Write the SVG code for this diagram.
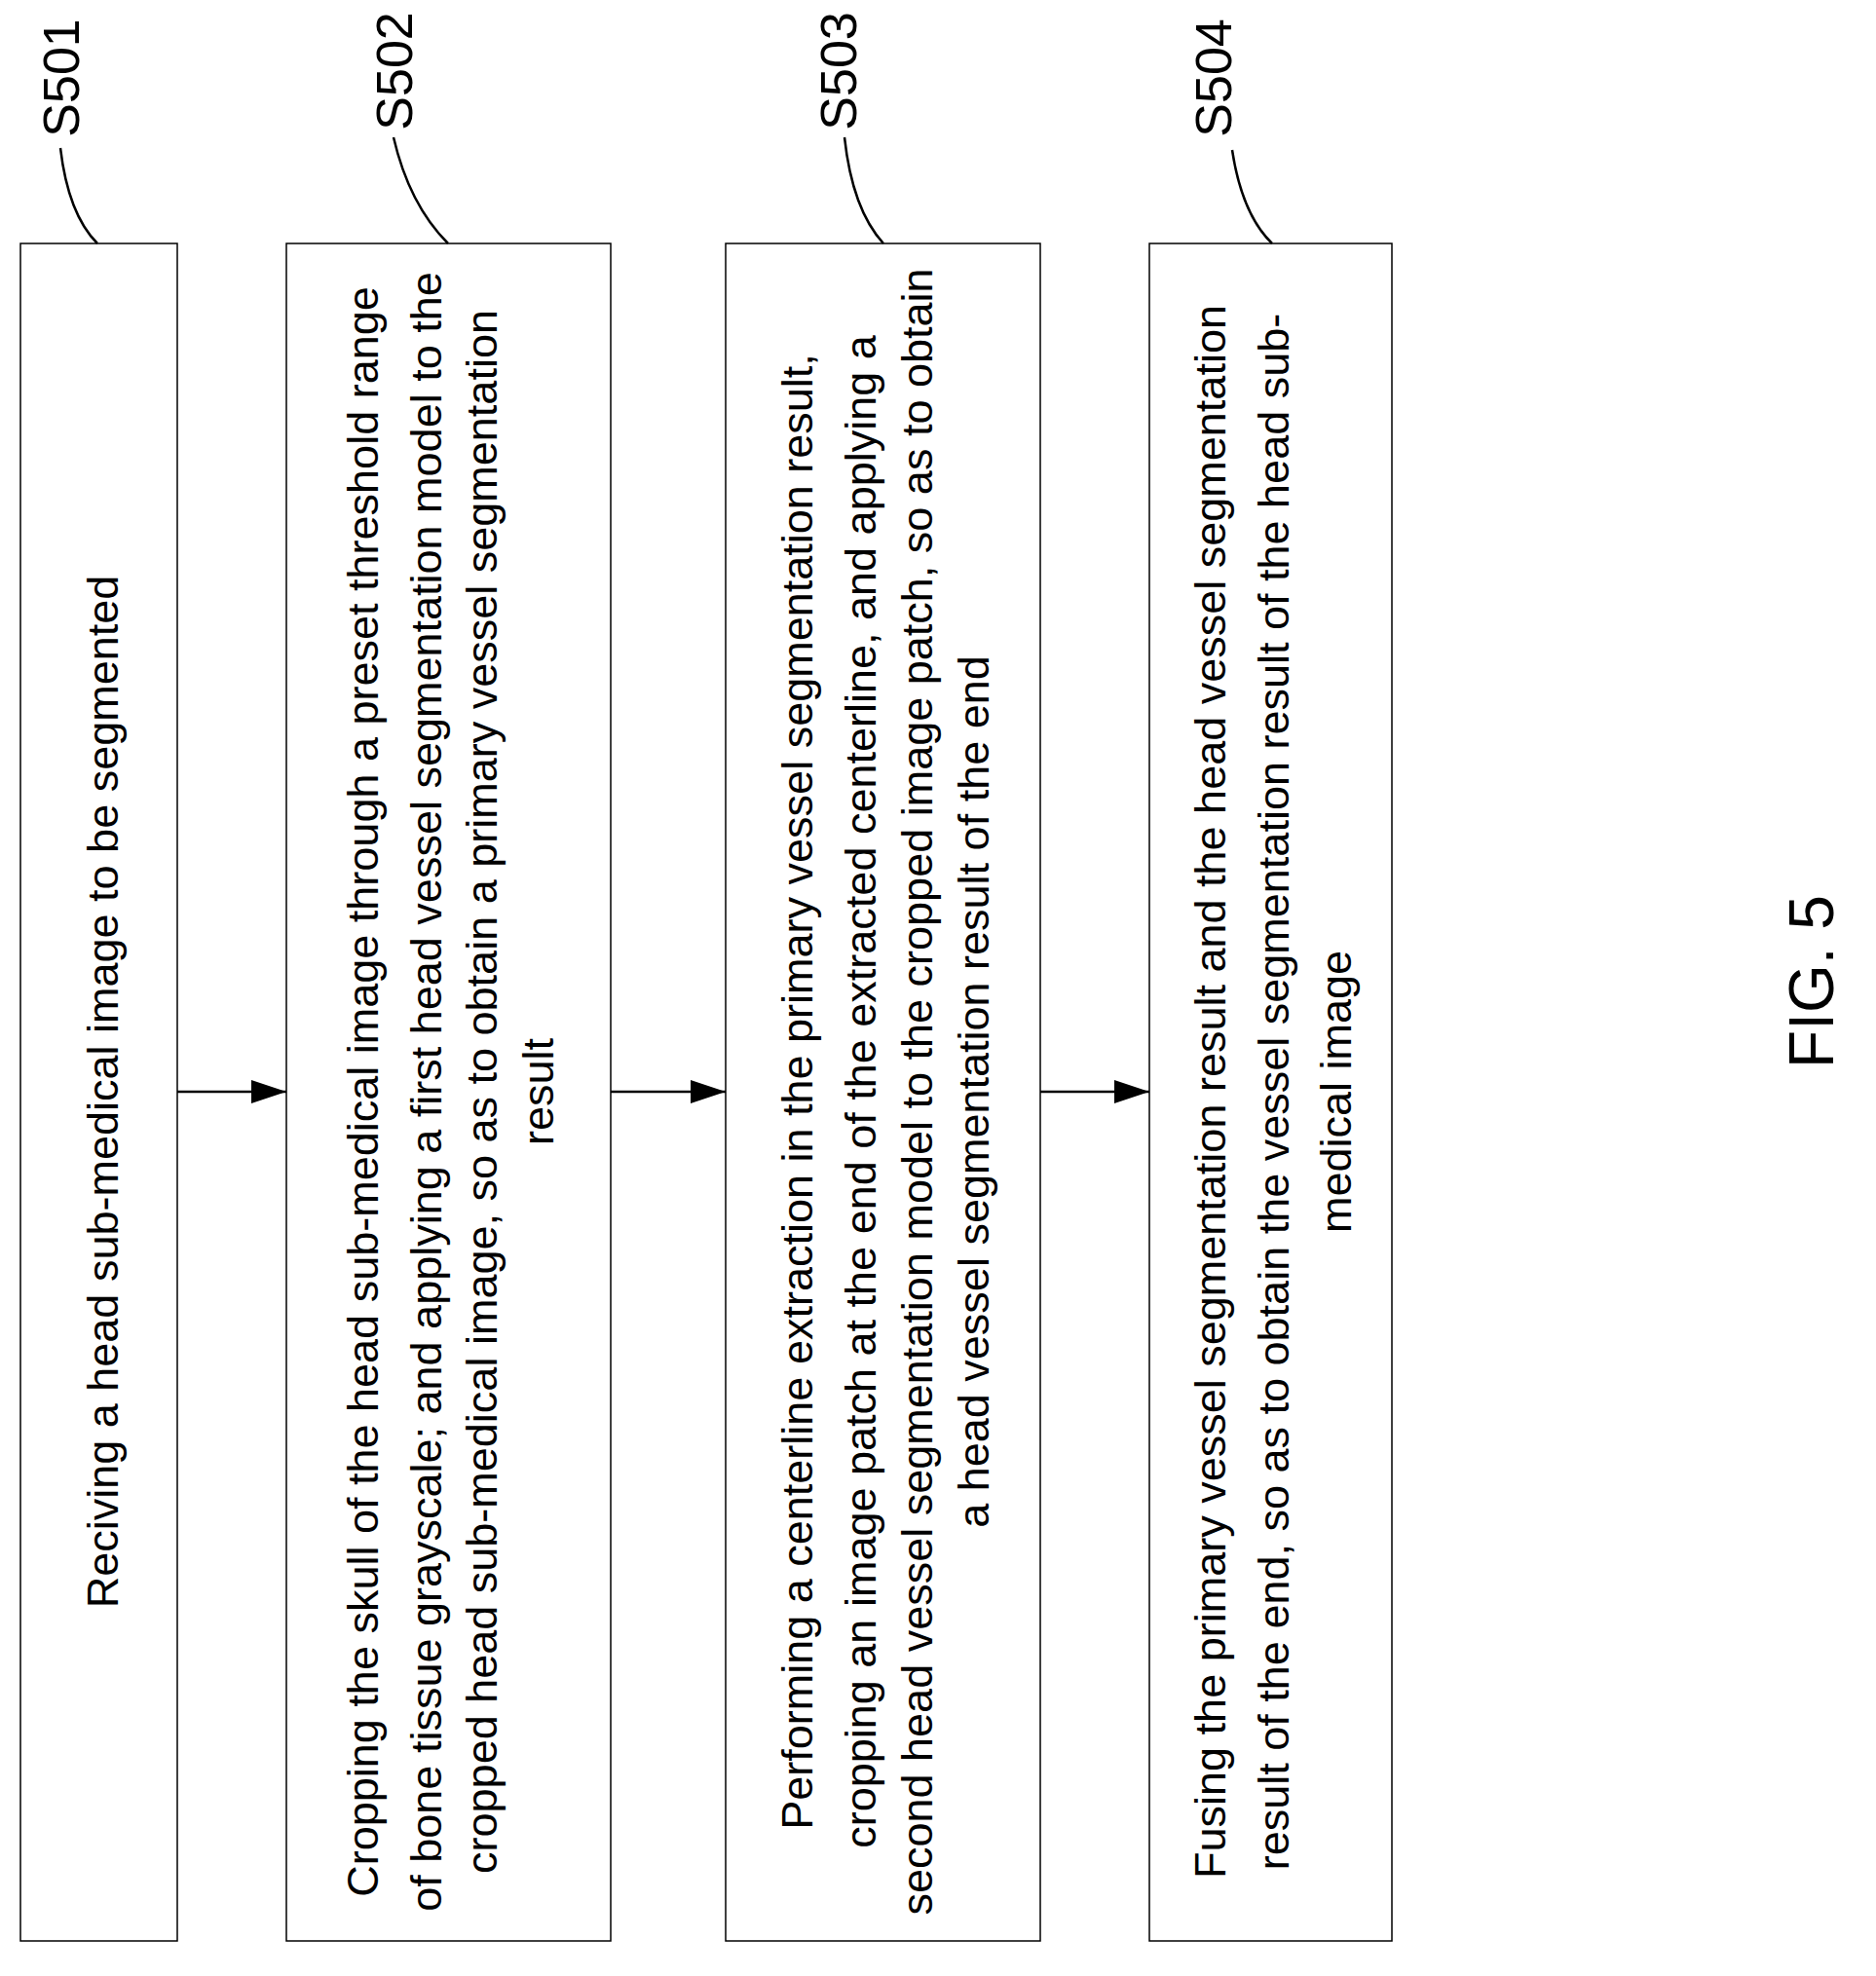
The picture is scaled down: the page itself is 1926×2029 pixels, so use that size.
<svg xmlns="http://www.w3.org/2000/svg" width="1926" height="2029" viewBox="0 0 1926 2029">
<defs>
<style>
.box{fill:#fff;stroke:#000;stroke-width:1.5}
.t{font-family:"Liberation Sans",Arial,sans-serif;font-size:45px;fill:#000;text-anchor:middle}
.l{font-family:"Liberation Sans",Arial,sans-serif;font-size:52px;fill:#000;text-anchor:middle}
.c{fill:none;stroke:#000;stroke-width:2.5}
</style>
<marker id="ah" markerWidth="36" markerHeight="24" refX="36" refY="12" orient="auto" markerUnits="userSpaceOnUse" viewBox="0 0 36 24"><path d="M0,0 L36,12 L0,24 z" fill="#000"/></marker>
</defs>
<rect width="1926" height="2029" fill="#fff"/>
<g id="S501">
<rect class="box" x="21" y="250" width="161" height="1743"/>
<text class="t" transform="translate(121,1121) rotate(-90)">Reciving a head sub-medical image to be segmented</text>
<text class="l" transform="translate(81,80) rotate(-90)">S501</text>
<path class="c" d="M62,152 Q70,220 100,250"/>
</g>
<g id="S502">
<rect class="box" x="294" y="250" width="333" height="1743"/>
<text class="t" transform="translate(388,1121) rotate(-90)">Cropping the skull of the head sub-medical image through a preset threshold range</text>
<text class="t" transform="translate(453,1121) rotate(-90)">of bone tissue grayscale; and applying a first head vessel segmentation model to the</text>
<text class="t" transform="translate(510,1121) rotate(-90)">cropped head sub-medical image, so as to obtain a primary vessel segmentation</text>
<text class="t" transform="translate(568,1121) rotate(-90)">result</text>
<text class="l" transform="translate(423,73) rotate(-90)">S502</text>
<path class="c" d="M404,141 Q420,210 460,250"/>
</g>
<g id="S503">
<rect class="box" x="745" y="250" width="323" height="1743"/>
<text class="t" transform="translate(834,1121) rotate(-90)">Performing a centerline extraction in the primary vessel segmentation result,</text>
<text class="t" transform="translate(899,1121) rotate(-90)">cropping an image patch at the end of the extracted centerline, and applying a</text>
<text class="t" transform="translate(957,1121) rotate(-90)">second head vessel segmentation model to the cropped image patch, so as to obtain</text>
<text class="t" transform="translate(1015,1121) rotate(-90)">a head vessel segmentation result of the end</text>
<text class="l" transform="translate(879,73) rotate(-90)">S503</text>
<path class="c" d="M867,141 Q875,215 907,250"/>
</g>
<g id="S504">
<rect class="box" x="1180" y="250" width="249" height="1743"/>
<text class="t" transform="translate(1258,1121) rotate(-90)">Fusing the primary vessel segmentation result and the head vessel segmentation</text>
<text class="t" transform="translate(1323,1121) rotate(-90)">result of the end, so as to obtain the vessel segmentation result of the head sub-</text>
<text class="t" transform="translate(1387,1121) rotate(-90)">medical image</text>
<text class="l" transform="translate(1264,80) rotate(-90)">S504</text>
<path class="c" d="M1265,154 Q1275,220 1306,250"/>
</g>
<g id="connectors">
<line class="c" x1="182" y1="1121" x2="294" y2="1121" marker-end="url(#ah)"/>
<line class="c" x1="627" y1="1121" x2="745" y2="1121" marker-end="url(#ah)"/>
<line class="c" x1="1068" y1="1121" x2="1180" y2="1121" marker-end="url(#ah)"/>
</g>
<text transform="translate(1882,1008) rotate(-90)" style="font-family:'Liberation Sans',Arial,sans-serif;font-size:64px;text-anchor:middle">FIG. 5</text>
</svg>
